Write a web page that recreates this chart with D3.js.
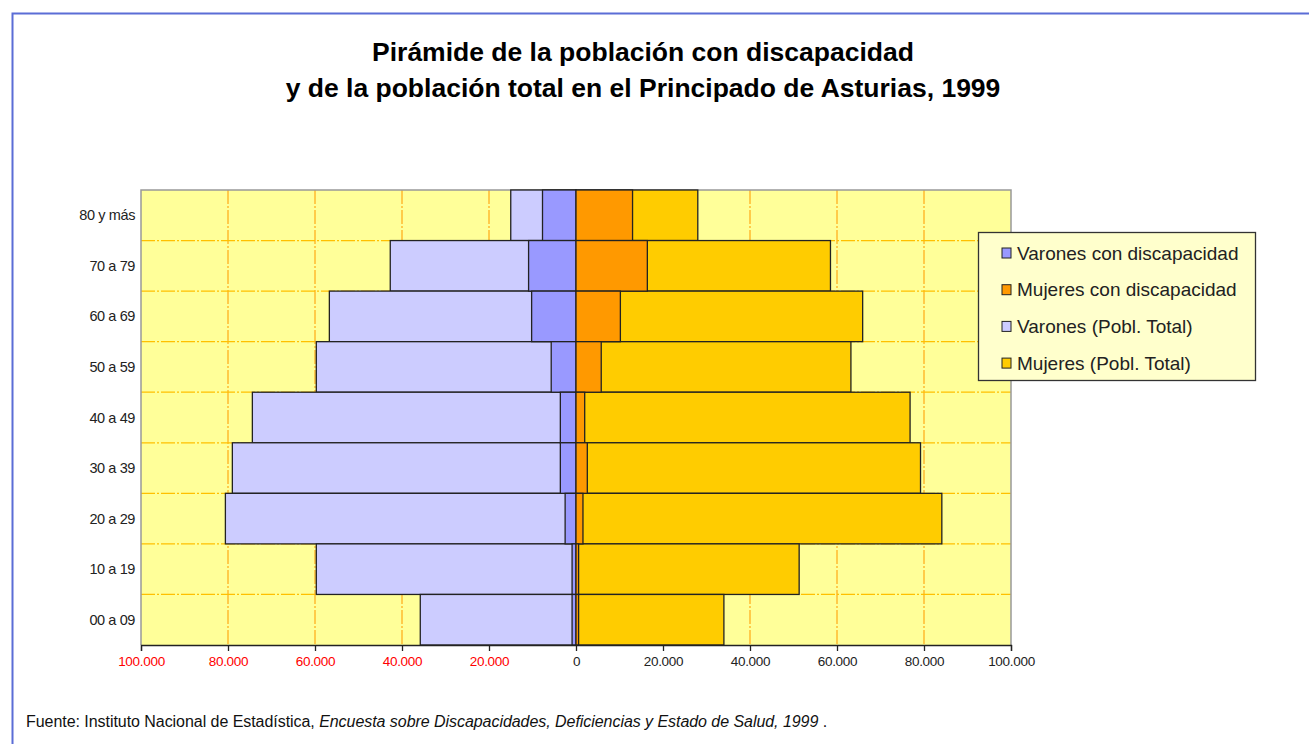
<!DOCTYPE html>
<meta charset="utf-8">
<script src="https://d3js.org/d3.v7.min.js"></script>
<style>
  body { margin: 0; background: #fff; }
  svg { font-family: "Liberation Sans", Arial, sans-serif; }
</style>
<div id="chart"></div>
<script>
// categories, top to bottom
var categories = ["80 y más", "70 a 79", "60 a 69", "50 a 59", "40 a 49", "30 a 39", "20 a 29", "10 a 19", "00 a 09"];
var varonesTotal = [15000, 42700, 56700, 59700, 74400, 79000, 80600, 59700, 35800];
var varonesDisc  = [7700, 10900, 10200, 5700, 3600, 3600, 2500, 900, 900];
var mujeresDisc  = [13000, 16400, 10200, 5800, 2000, 2600, 1600, 600, 600];
var mujeresTotal = [28000, 58500, 65900, 63200, 76800, 79200, 84100, 51300, 34000];
var xTicks = [-100000, -80000, -60000, -40000, -20000, 0, 20000, 40000, 60000, 80000, 100000];
var legendLabels = ["Varones con discapacidad", "Mujeres con discapacidad", "Varones (Pobl. Total)", "Mujeres (Pobl. Total)"];
var legendColors = ["#9999FF", "#FF9900", "#CCCCFF", "#FFCC00"];

var W = 1309, H = 744;
var plot = {left: 141, right: 1011, top: 190, bottom: 645};

var svg = d3.select("#chart").append("svg")
  .attr("width", W).attr("height", H);

// outer frame
svg.append("rect")
  .attr("x", 12.5).attr("y", 13.5)
  .attr("width", 1400).attr("height", 800)
  .attr("fill", "none").attr("stroke", "#5b6dd6").attr("stroke-width", 2);

// title
svg.append("text")
  .attr("x", 643).attr("y", 61)
  .attr("text-anchor", "middle")
  .style("font-size", "26.5px").style("font-weight", "bold")
  .text("Pirámide de la población con discapacidad");
svg.append("text")
  .attr("x", 643).attr("y", 97)
  .attr("text-anchor", "middle")
  .style("font-size", "26.5px").style("font-weight", "bold")
  .text("y de la población total en el Principado de Asturias, 1999");

var x = d3.scaleLinear().domain([-100000, 100000]).range([plot.left, plot.right]);
var y = d3.scaleBand().domain(categories).range([plot.top, plot.bottom]).padding(0);

// plot background
svg.append("rect")
  .attr("x", plot.left).attr("y", plot.top)
  .attr("width", plot.right - plot.left).attr("height", plot.bottom - plot.top)
  .attr("fill", "#FFFF99");

// gridlines
svg.append("g").selectAll("line")
  .data(xTicks.filter(function(d) { return d !== 0 && Math.abs(d) !== 100000; }))
  .enter().append("line")
  .attr("x1", function(d) { return x(d); }).attr("x2", function(d) { return x(d); })
  .attr("y1", plot.top).attr("y2", plot.bottom)
  .attr("stroke", "#FFB020").attr("stroke-width", 1.3)
  .attr("stroke-dasharray", "14,2,2,2");
svg.append("g").selectAll("line")
  .data(categories.slice(1))
  .enter().append("line")
  .attr("x1", plot.left).attr("x2", plot.right)
  .attr("y1", function(d) { return y(d); }).attr("y2", function(d) { return y(d); })
  .attr("stroke", "#FFC000").attr("stroke-width", 1.3)
  .attr("stroke-dasharray", "14,2,2,2");

// plot border
svg.append("path")
  .attr("d", "M" + plot.left + "," + plot.bottom + "V" + plot.top + "H" + plot.right + "V" + plot.bottom)
  .attr("fill", "none").attr("stroke", "#999").attr("stroke-width", 1.5);

// bars
function bars(values, sign, color) {
  svg.append("g").selectAll("rect")
    .data(values)
    .enter().append("rect")
    .attr("x", function(d) { return sign < 0 ? x(-d) : x(0); })
    .attr("y", function(d, i) { return y(categories[i]); })
    .attr("width", function(d) { return Math.abs(x(d) - x(0)); })
    .attr("height", y.bandwidth())
    .attr("fill", color)
    .attr("stroke", "#222").attr("stroke-width", 1.3);
}
bars(varonesTotal, -1, "#CCCCFF");
bars(mujeresTotal, 1, "#FFCC00");
bars(varonesDisc, -1, "#9999FF");
bars(mujeresDisc, 1, "#FF9900");

// x axis
var xAxis = svg.append("g")
  .attr("transform", "translate(0," + plot.bottom + ")")
  .call(d3.axisBottom(x).tickValues(xTicks).tickSize(6).tickPadding(5)
    .tickFormat(function(d) { return d3.format(",")(Math.abs(d)).replace(/,/g, "."); }));
xAxis.select(".domain").attr("stroke", "#222").attr("stroke-width", 1.3);
xAxis.selectAll(".tick line").attr("stroke", "#222").attr("stroke-width", 1.3);
xAxis.selectAll(".tick text")
  .style("font-family", "'Liberation Sans', Arial, sans-serif")
  .style("font-size", "13.5px").style("letter-spacing", "-0.3px")
  .attr("fill", function(d) { return d < 0 ? "#FF0000" : "#222"; });

// y labels
svg.append("g").selectAll("text")
  .data(categories)
  .enter().append("text")
  .attr("x", 135)
  .attr("y", function(d) { return y(d) + y.bandwidth() / 2; })
  .attr("dy", "0.35em")
  .attr("text-anchor", "end")
  .style("font-size", "14.5px").style("letter-spacing", "-0.4px")
  .attr("fill", "#222")
  .text(function(d) { return d; });

// legend
var lg = svg.append("g");
lg.append("rect")
  .attr("x", 978.5).attr("y", 232.5).attr("width", 277).attr("height", 148)
  .attr("fill", "#FFFFCC").attr("stroke", "#333").attr("stroke-width", 1.3);
legendLabels.forEach(function(label, i) {
  var cy = 253 + i * 36.7;
  lg.append("rect")
    .attr("x", 1002).attr("y", cy - 5).attr("width", 9).attr("height", 10)
    .attr("fill", legendColors[i]).attr("stroke", "#222").attr("stroke-width", 1);
  lg.append("text")
    .attr("x", 1017).attr("y", cy).attr("dy", "0.35em")
    .style("font-size", "19px").style("letter-spacing", "0px").attr("fill", "#222")
    .text(label);
});

// footer
var ft = svg.append("text")
  .attr("x", 26).attr("y", 727)
  .style("font-size", "16px").style("letter-spacing", "-0.05px").attr("fill", "#111");
ft.append("tspan").text("Fuente: Instituto Nacional de Estadística, ");
ft.append("tspan").style("font-style", "italic").text("Encuesta sobre Discapacidades, Deficiencias y Estado de Salud, 1999");
ft.append("tspan").text(" .");
</script>
